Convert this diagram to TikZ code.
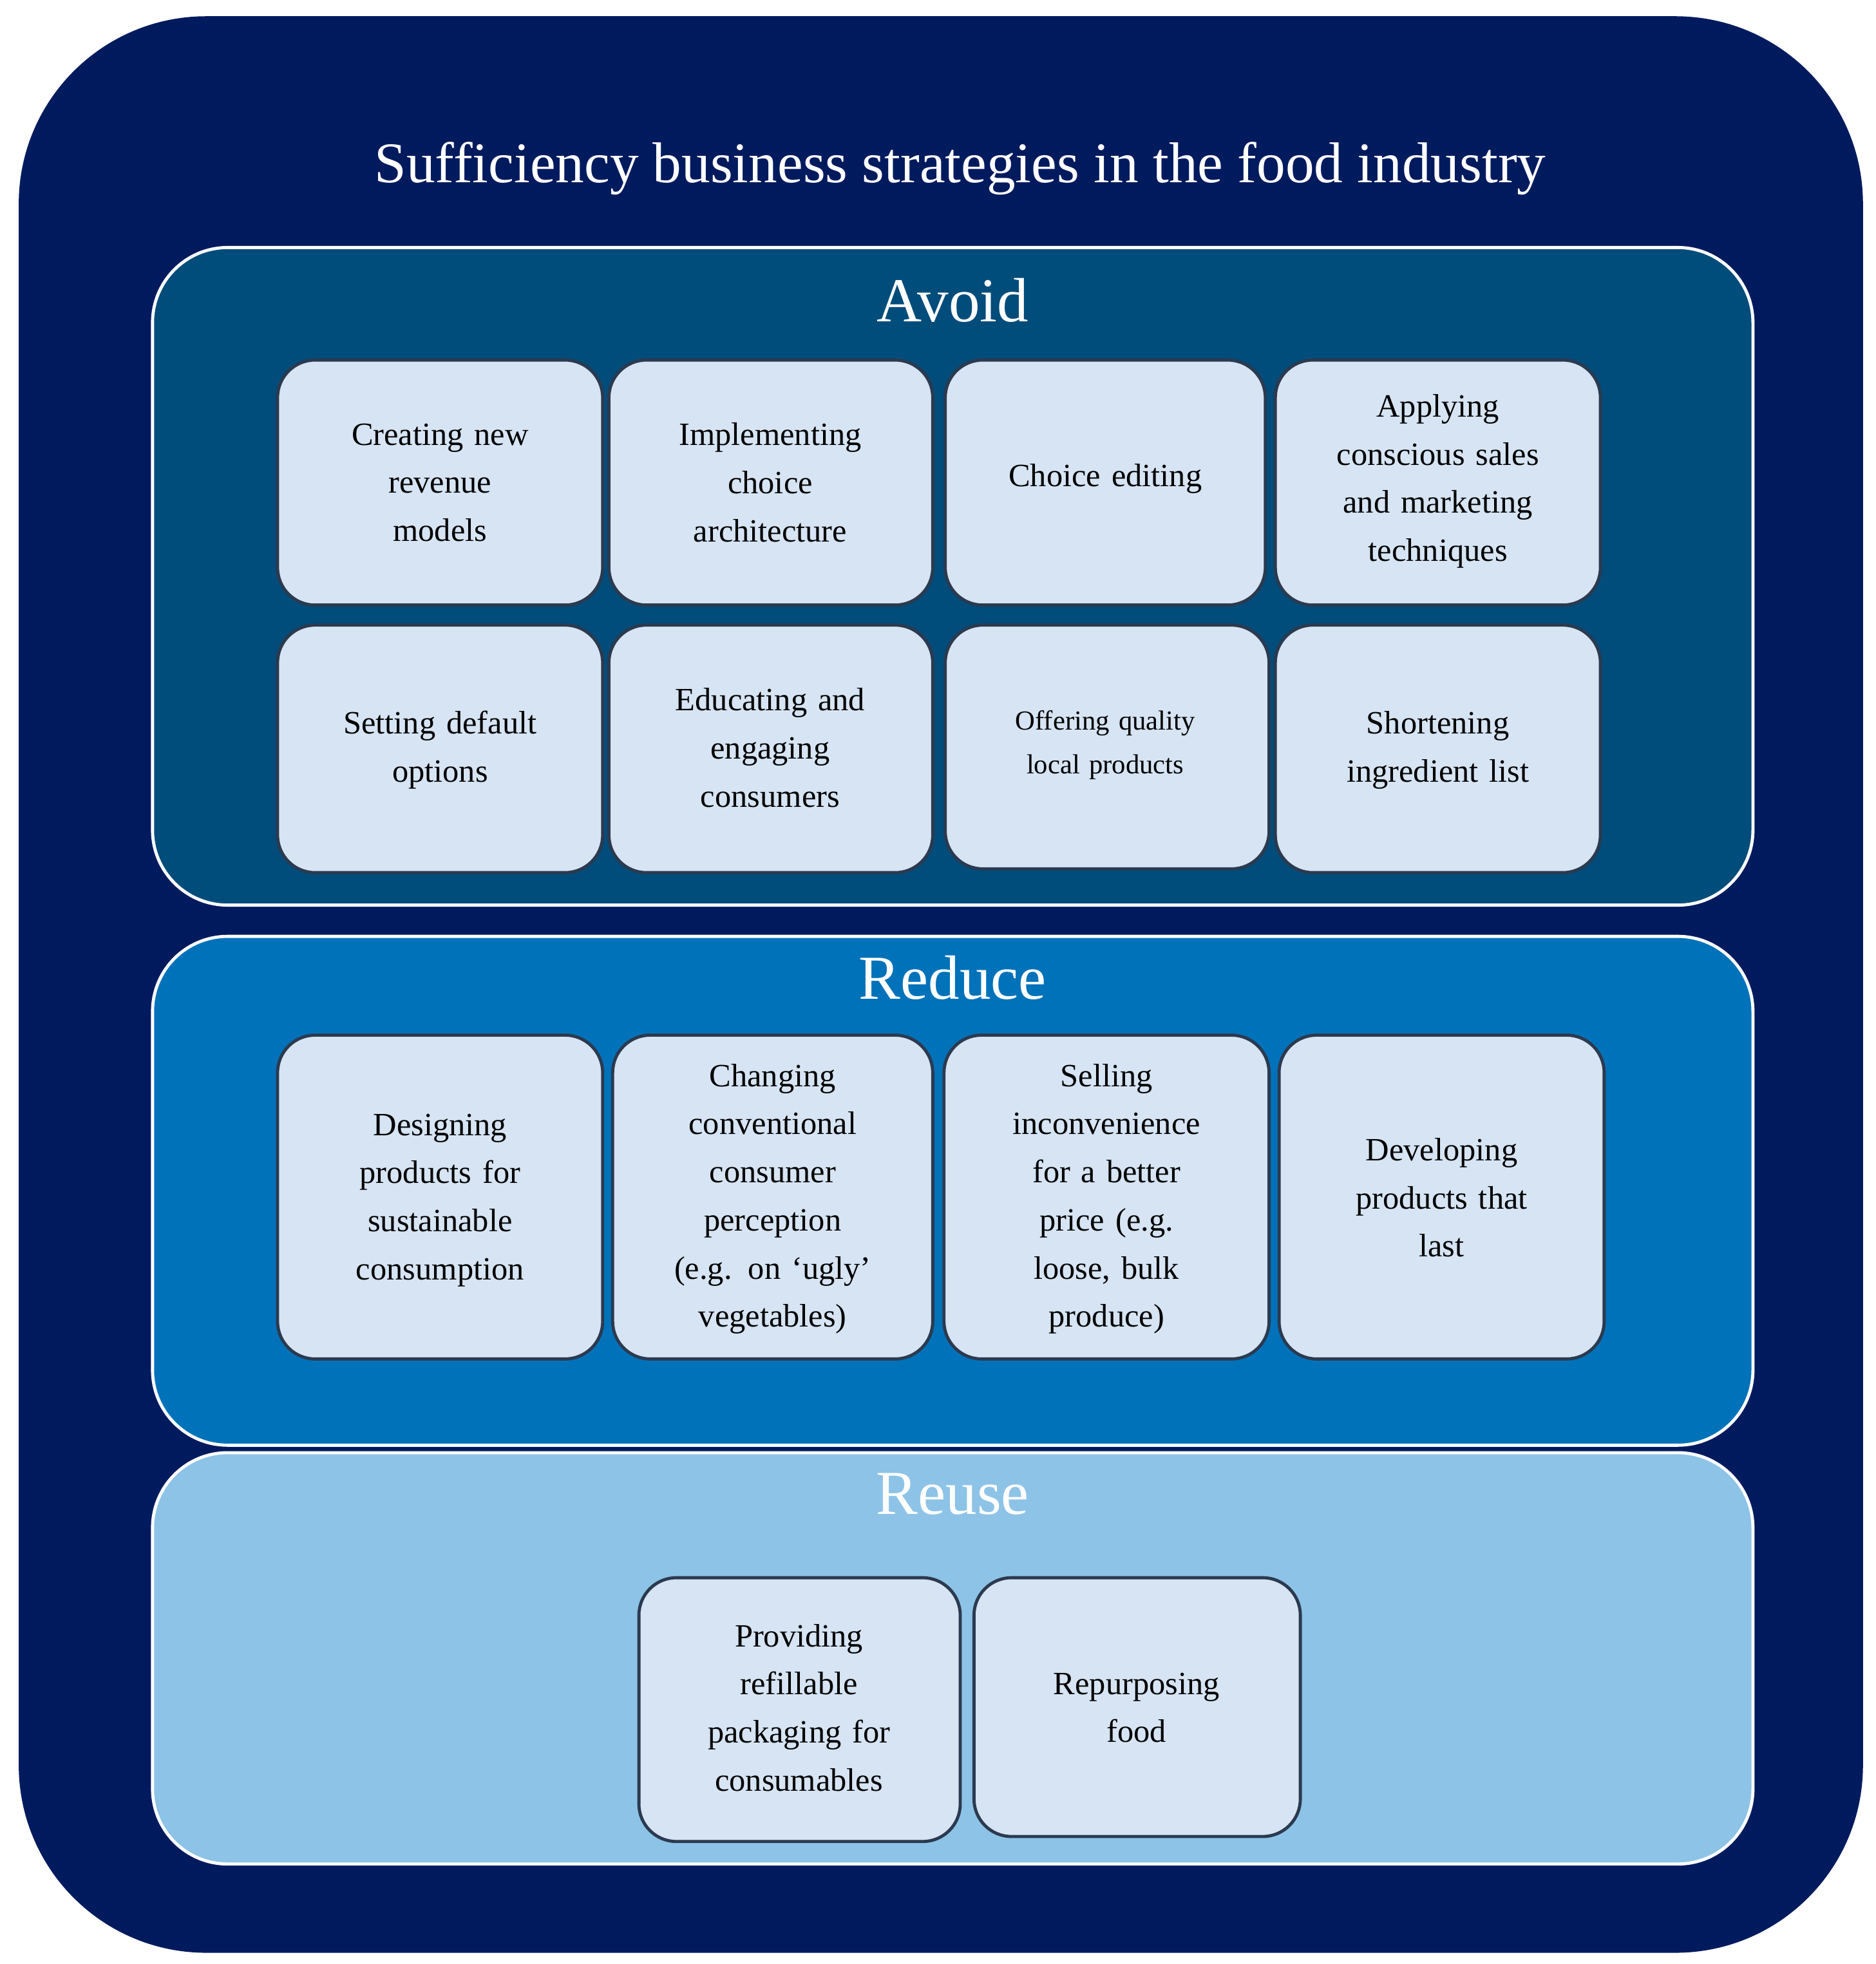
\documentclass[tikz,border=0pt]{standalone}
\usepackage{fontspec}
\setmainfont{Liberation Serif}
\definecolor{outerc}{RGB}{0,26,94}
\definecolor{avoidc}{RGB}{0,76,122}
\definecolor{reducec}{RGB}{0,114,185}
\definecolor{reusec}{RGB}{141,195,230}
\definecolor{boxc}{RGB}{214,228,243}
\definecolor{edgec}{RGB}{43,58,79}
\begin{document}
\begin{tikzpicture}[x=1pt,y=-1pt,
  panel/.style={draw=white,line width=2.5pt,rounded corners=60pt},
  item/.style={draw=edgec,line width=2.5pt,fill=boxc,rounded corners=30pt},
  lbl/.style={align=center,text width=#1,font=\fontsize{26}{38.5}\selectfont},
  lbl/.default=220pt,
  head/.style={text=white,font=\fontsize{50}{60}\selectfont}]
\useasboundingbox (0,0) rectangle (1500,1571);
\fill[outerc,rounded corners=150pt] (15,13) rectangle (1490,1562);
\node[head,font=\fontsize{46}{56}\selectfont] (title) at (768,135) {Sufficiency business strategies in the food industry};
% panels
\draw[panel,fill=avoidc] (122,198) rectangle (1402,724);
\draw[panel,fill=reducec] (122,749) rectangle (1402,1156);
\draw[panel,fill=reusec] (122,1162) rectangle (1402,1491);
\node[head] (avoid) at (762,240) {Avoid};
\node[head] (reduce) at (762,782) {Reduce};
\node[head] (reuse) at (762,1195) {Reuse};
% avoid row 1
\draw[item] (222,288) rectangle (482,484);
\node[lbl] (a1) at (352,386) {Creating new\\revenue\\models};
\draw[item] (487,288) rectangle (746,484);
\node[lbl] (a2) at (616,386) {Implementing\\choice\\architecture};
\draw[item] (756,288) rectangle (1012,484);
\node[lbl] (a3) at (884,383) {Choice editing};
\draw[item] (1020,288) rectangle (1280,484);
\node[lbl] (a4) at (1150,385) {Applying\\conscious sales\\and marketing\\techniques};
% avoid row 2
\draw[item] (222,500) rectangle (482,698);
\node[lbl] (a5) at (352,600) {Setting default\\options};
\draw[item] (487,500) rectangle (746,698);
\node[lbl] (a6) at (616,598) {Educating and\\engaging\\consumers};
\draw[item] (756,500) rectangle (1015,695);
\node[lbl,font=\fontsize{22}{35}\selectfont] (a7) at (884,596) {Offering quality\\local products};
\draw[item] (1020,500) rectangle (1280,698);
\node[lbl] (a8) at (1150,600) {Shortening\\ingredient list};
% reduce
\draw[item] (222,828) rectangle (482,1087);
\node[lbl] (r1) at (352,960) {Designing\\products for\\sustainable\\consumption};
\draw[item] (490,828) rectangle (746,1087);
\node[lbl] (r2) at (618,959) {Changing\\conventional\\consumer\\perception\\(e.g. on ‘ugly’\\vegetables)};
\draw[item] (755,828) rectangle (1015,1087);
\node[lbl] (r3) at (885,959) {Selling\\inconvenience\\for a better\\price (e.g.\\loose, bulk\\produce)};
\draw[item] (1023,828) rectangle (1283,1087);
\node[lbl] (r4) at (1153,958) {Developing\\products that\\last};
% reuse
\draw[item] (511,1262) rectangle (768,1473);
\node[lbl] (u1) at (639,1366) {Providing\\refillable\\packaging for\\consumables};
\draw[item] (779,1262) rectangle (1040,1469);
\node[lbl] (u2) at (909,1366) {Repurposing\\food};
\end{tikzpicture}
\end{document}
